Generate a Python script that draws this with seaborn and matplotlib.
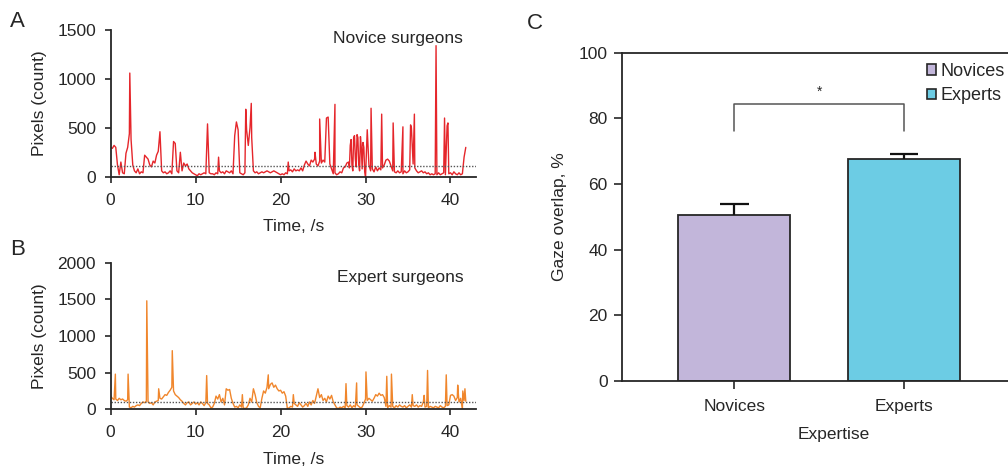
import numpy as np
import pandas as pd
import matplotlib
matplotlib.use('Agg')
import matplotlib.pyplot as plt
import seaborn as sns
from matplotlib.patches import Patch

sns.set_style('ticks')
plt.rcParams['font.family'] = ['Liberation Sans', 'DejaVu Sans']

# sampling interval of the pixel traces (seconds)
SAMPLE_STEP = 0.2

# panel A - novice surgeons, pixel count every 0.2 s (0 .. 41.8 s)
novice_base = [
    300, 290, 320, 300, 120, 20, 150, 40, 30, 240,
    300, 440, 380, 120, 60, 40, 80, 30, 50, 40,
    220, 200, 180, 120, 100, 160, 140, 220, 260, 460,
    60, 40, 50, 30, 40, 60, 30, 360, 340, 60,
    40, 250, 60, 140, 110, 130, 80, 60, 40, 30,
    20, 10, 30, 20, 30, 40, 30, 540, 40, 30,
    30, 20, 40, 30, 60, 40, 50, 30, 60, 50,
    40, 60, 30, 420, 560, 480, 40, 30, 20, 40,
    480, 320, 500, 400, 60, 40, 50, 30, 40, 50,
    40, 50, 60, 50, 40, 50, 60, 50, 40, 30,
    20, 30, 20, 40, 30, 60, 70, 50, 80, 60,
    70, 60, 90, 60, 120, 160, 130, 110, 170, 150,
    180, 130, 110, 160, 140, 170, 150, 600, 610, 130,
    80, 30, 40, 20, 30, 50, 40, 90, 100, 140,
    150, 320, 120, 400, 180, 430, 120, 410, 80, 300,
    0, 480, 120, 60, 80, 50, 100, 60, 90, 70,
    90, 120, 170, 180, 160, 110, 60, 50, 40, 60,
    40, 50, 30, 60, 40, 50, 70, 500, 130, 90,
    60, 40, 50, 60, 40, 50, 30, 40, 20, 30,
    20, 30, 20, 40, 20, 30, 40, 20, 520, 30,
    40, 20, 50, 30, 20, 40, 20, 30, 200, 300,
]
# short spikes / extra samples between the regular ones
novice_peak_t = [2.25, 12.7, 15.9, 16.55, 20.9, 24.05, 24.6, 26.4,
                 28.1, 28.3, 28.5, 28.7, 28.9, 29.1, 29.3, 29.5, 29.7, 29.9,
                 30.65, 31.9, 33.25, 34.4, 35.3, 35.75, 38.3, 39.3, 39.7]
novice_peak_v = [1060, 200, 690, 750, 150, 250, 590, 740,
                 90, 380, 60, 420, 100, 400, 60, 300, 350, 50,
                 700, 640, 550, 510, 530, 640, 1340, 600, 550]

# panel B - expert surgeons
expert_base = [
    180, 150, 130, 140, 120, 150, 130, 140, 120, 110,
    130, 30, 20, 40, 30, 50, 60, 50, 80, 100,
    90, 110, 100, 80, 90, 60, 100, 110, 120, 150,
    140, 170, 200, 190, 230, 260, 300, 250, 200, 180,
    160, 130, 110, 80, 60, 90, 100, 60, 80, 100,
    70, 90, 60, 100, 80, 50, 90, 80, 60, 20,
    30, 80, 180, 140, 200, 100, 150, 60, 280, 260,
    270, 150, 80, 30, 40, 20, 60, 30, 20, 10,
    20, 60, 150, 100, 280, 200, 90, 40, 20, 150,
    250, 220, 300, 280, 340, 360, 300, 330, 280, 250,
    260, 220, 240, 180, 10, 20, 40, 30, 80, 60,
    40, 90, 60, 30, 50, 80, 40, 100, 60, 120,
    80, 180, 280, 160, 200, 120, 150, 100, 180, 140,
    190, 100, 60, 20, 10, 30, 20, 40, 20, 50,
    30, 60, 20, 50, 30, 60, 40, 20, 30, 80,
    140, 120, 150, 130, 110, 150, 200, 180, 220, 190,
    200, 160, 40, 20, 50, 30, 40, 20, 50, 30,
    60, 40, 30, 50, 20, 40, 60, 30, 50, 40,
    60, 30, 50, 40, 100, 30, 40, 20, 40, 30,
    20, 40, 30, 20, 50, 30, 20, 40, 50, 60,
    190, 200, 180, 120, 160, 100, 150, 0, 120, 110,
]
expert_peak_t = [0.55, 2.05, 4.25, 5.65, 7.25, 11.3, 15.5, 18.55, 21.5,
                 27.7, 28.95, 30.05, 32.5, 33.05, 35.5, 36.9, 37.3, 39.5,
                 40.85, 41.45, 41.7]
expert_peak_v = [480, 480, 1480, 280, 800, 460, 200, 470, 200,
                 350, 360, 510, 450, 480, 200, 190, 530, 470,
                 330, 250, 280]

novice_threshold = 110
expert_threshold = 100

# panel C - gaze overlap
groups = ['Novices', 'Experts']
overlap_mean = [50.5, 67.5]
overlap_sem = [3.3, 1.7]
bar_colors = ['#C2B6DA', '#6CCCE4']

INK = '#262626'


def build_trace(base, peak_t, peak_v):
    t = np.arange(len(base)) * SAMPLE_STEP
    df = pd.concat([pd.DataFrame({'time': t, 'pixels': base}),
                    pd.DataFrame({'time': peak_t, 'pixels': peak_v})])
    return df.sort_values('time').reset_index(drop=True)


def plot_trace(ax, df, color, thr, ymax, yticks, title, title_y):
    sns.lineplot(data=df, x='time', y='pixels', ax=ax, color=color,
                 linewidth=1.0, estimator=None, sort=False)
    ax.axhline(thr, color='#555555', linestyle=(0, (1, 1.2)), linewidth=1.0)
    ax.set_xlim(0, 43)
    ax.set_ylim(0, ymax)
    ax.set_xticks([0, 10, 20, 30, 40])
    ax.set_yticks(yticks)
    sns.despine(ax=ax)
    for s in ['left', 'bottom']:
        ax.spines[s].set_color(INK)
        ax.spines[s].set_linewidth(1.3)
    ax.tick_params(direction='out', length=4.5, width=1.2, labelsize=12.5,
                   color=INK, labelcolor=INK)
    ax.tick_params(axis='x', pad=7)
    ax.tick_params(axis='y', pad=6)
    ax.set_xlabel('Time, /s', fontsize=12.5, color=INK)
    ax.set_ylabel('Pixels (count)', fontsize=12.5, color=INK)
    ax.yaxis.set_label_coords(-0.175, 0.5)
    ax.xaxis.set_label_coords(0.5, -0.29)
    ax.text(0.965, title_y, title, transform=ax.transAxes, ha='right',
            va='center', fontsize=12.5, color=INK)


fig = plt.figure(figsize=(10.08, 4.69), dpi=100)
ax_a = fig.add_axes([0.1098, 0.6232, 0.3624, 0.3128])
ax_b = fig.add_axes([0.1098, 0.1273, 0.3624, 0.3126])
ax_c = fig.add_axes([0.6168, 0.1876, 0.42, 0.7001])

plot_trace(ax_a, build_trace(novice_base, novice_peak_t, novice_peak_v),
           '#E5262B', novice_threshold, 1500, [0, 500, 1000, 1500],
           'Novice surgeons', 0.943)
plot_trace(ax_b, build_trace(expert_base, expert_peak_t, expert_peak_v),
           '#F0862C', expert_threshold, 2000, [0, 500, 1000, 1500, 2000],
           'Expert surgeons', 0.898)

# panel C bars
sns.barplot(x=groups, y=overlap_mean, hue=groups, palette=bar_colors,
            dodge=False, width=0.66, saturation=1, edgecolor=INK,
            linewidth=1.3, ax=ax_c, legend=False)
for i, (m, e) in enumerate(zip(overlap_mean, overlap_sem)):
    ax_c.vlines(i, m, m + e, color='#111111', linewidth=1.6)
    ax_c.hlines(m + e, i - 0.085, i + 0.085, color='#111111', linewidth=1.6)
ax_c.plot([0, 0, 1, 1], [76, 84.4, 84.4, 76], color='#555555', linewidth=1.1)
ax_c.text(0.5, 88.0, '*', ha='center', va='center', fontsize=10, color=INK)

ax_c.set_xlim(-0.6635, 1.8315)
ax_c.set_ylim(0, 100)
ax_c.set_yticks([0, 20, 40, 60, 80, 100])
for s in ['left', 'bottom', 'top', 'right']:
    ax_c.spines[s].set_color(INK)
    ax_c.spines[s].set_linewidth(1.3)
ax_c.tick_params(direction='out', length=6, width=1.2, labelsize=12.5,
                 color=INK, labelcolor=INK)
ax_c.tick_params(axis='x', pad=7)
ax_c.tick_params(axis='y', pad=4)
ax_c.set_xlabel('Expertise', fontsize=12.5, color=INK)
ax_c.set_ylabel('Gaze overlap, %', fontsize=12.5, color=INK)
ax_c.xaxis.set_label_coords(0.5, -0.14)
ax_c.yaxis.set_label_coords(-0.13, 0.5)

handles = [Patch(facecolor=c, edgecolor=INK, linewidth=1.2) for c in bar_colors]
fig.legend(handles, groups, loc='upper left', bbox_to_anchor=(0.9195, 0.866),
           frameon=False, fontsize=13, handlelength=0.5, handleheight=0.5,
           handletextpad=0.25, labelspacing=0.42, borderpad=0,
           borderaxespad=0)

# panel letters
fig.text(0.010, 0.955, 'A', fontsize=16, color=INK, va='center')
fig.text(0.010, 0.468, 'B', fontsize=16, color=INK, va='center')
fig.text(0.523, 0.950, 'C', fontsize=16, color=INK, va='center')

fig.savefig('out.png', dpi=100)
